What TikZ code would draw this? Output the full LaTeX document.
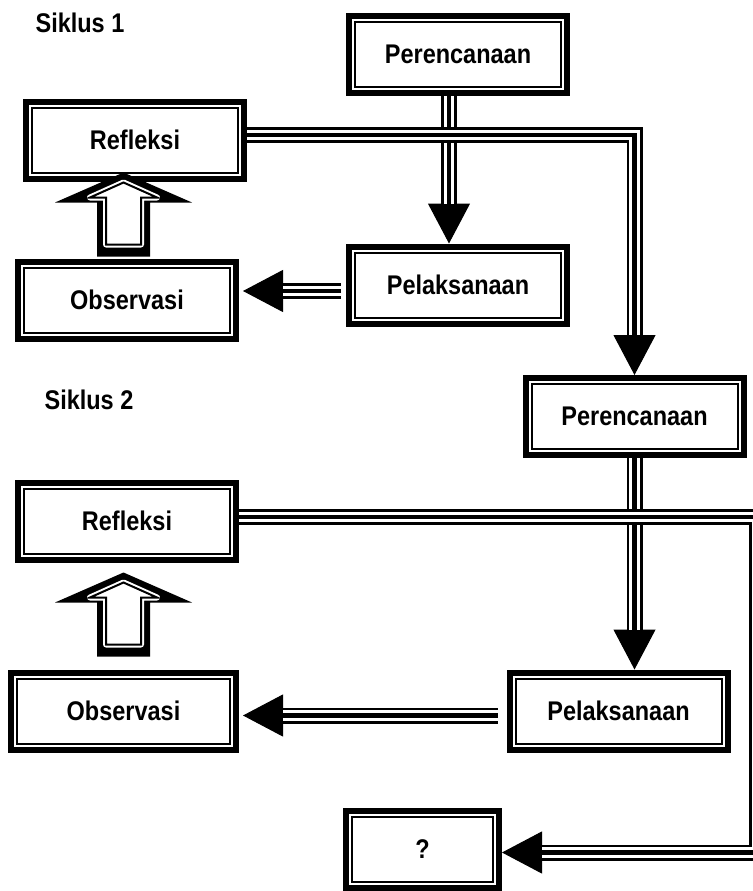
\documentclass[tikz,border=0pt]{standalone}
\usepackage{fontspec}
\usetikzlibrary{arrows.meta}
\newfontfamily\diagfont{Liberation Sans}[FakeStretch=0.87]

\begin{document}
\begin{tikzpicture}[x=1pt, y=-1pt,
    stage/.style={rectangle,
        draw=black, % Thick outer frame.
        line width=6pt,
        fill=white,
        inner sep=0pt,
        minimum width=218pt,
        minimum height=77pt,
        font=\diagfont\bfseries\fontsize{27}{30}\selectfont,
        path picture={\draw[line width=2pt] % Thin inner frame.
            ([shift={(6pt,-6pt)}]path picture bounding box.north west) rectangle
            ([shift={(-6pt,6pt)}]path picture bounding box.south east);}},
    siklus/.style={font=\diagfont\bfseries\fontsize{27}{30}\selectfont},
    flow/.style={line width=16pt, line join=miter,
        -{Triangle[length=40pt, width=42pt, line width=1pt]},
        postaction={draw=white, line width=10.5pt, -, shorten >=40pt},
        postaction={draw=black, line width=4.5pt, -, shorten >=40pt}},
    pics/upblock/.style={code={
        \fill (0,-84) -- (68.5,-54) -- (26.5,-54) -- (26.5,0) -- (-26.5,0)
            -- (-26.5,-54) -- (-68.5,-54) -- cycle;
        \draw[line width=2pt, fill=white,
            preaction={draw=white, line width=6pt, line join=round}]
            (0,-74) -- (33.5,-59) -- (17.5,-59) -- (17.5,-12) -- (-17.5,-12)
            -- (-17.5,-59) -- (-33.5,-59) -- cycle;}}]

        \useasboundingbox (0,0) rectangle (752,891);

        % Titles.
        \node[siklus] (sik1) at (80,23) {Siklus 1};
        \node[siklus] (sik2) at (89,400) {Siklus 2};

        % Nodes.
        \foreach \name/\x/\y/\w/\txt in {
            per1/458/54.5/218/Perencanaan, ref1/135/140/218/Refleksi,
            obs1/127/300/218/Observasi, pel1/458/285/218/Pelaksanaan,
            per2/634.5/416.5/218/Perencanaan, ref2/127/521/218/Refleksi,
            obs2/123.5/711/225/Observasi, pel2/618.5/711/218/Pelaksanaan,
            q/422.5/849/153/?}
        \node[stage, minimum width=\w pt] (\name) at (\x,\y) {\txt};

        % Block arrows.
        \pic at ([xshift=-3.5pt, yshift=2pt]obs1.north) {upblock};
        \pic at ([yshift=13pt]obs2.north) {upblock};

        % Siklus 1.
        \draw[flow] ([xshift=-9pt]per1.south) -- ([xshift=-9pt]pel1.north);
        \draw[flow] ([yshift=5pt]ref1.east) -| (per2.north);
        \draw[flow] ([xshift=-5pt, yshift=-6pt]pel1.west) -- ([xshift=4pt, yshift=9pt]obs1.east);

        % Siklus 2.
        \coordinate (turn) at (757,517);
        \draw[flow] (per2.south) -- (per2.south |- pel2.north);
        \draw[flow] ([xshift=-9pt, yshift=-4.5pt]pel2.west) -- ([xshift=4pt, yshift=-4.5pt]obs2.east);
        \draw[flow] ([yshift=4pt]ref2.east) -- (turn) |- ([yshift=-3.5pt]q.east);
    \end{tikzpicture}
\end{document}
